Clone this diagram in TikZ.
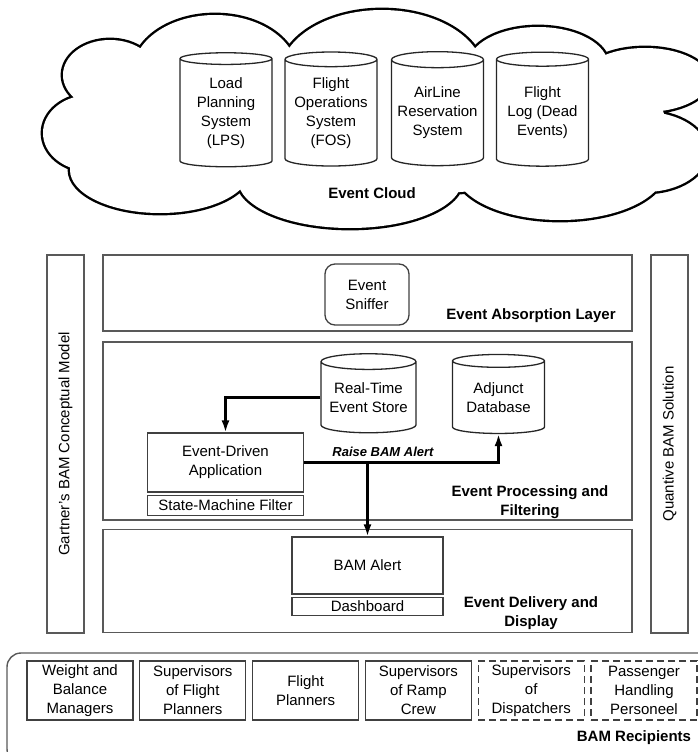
\documentclass[tikz,border=0pt]{standalone}
\usepackage{fontspec}
\setmainfont{Liberation Sans}
\usetikzlibrary{arrows.meta, positioning, shapes.geometric}

\begin{document}
\begin{tikzpicture}[x=1pt, y=-1pt,
    every node/.style={font=\fontsize{15}{19}\selectfont, align=center, inner sep=0pt},
    store/.style={cylinder, shape border rotate=90, aspect=0.2, draw=black!85, line width=1.3pt},
    layer/.style={draw=black!65, line width=1.4pt, minimum width=529pt},
    side/.style={draw=black!65, line width=1.4pt, minimum width=378pt, minimum height=37pt, rotate=90},
    box/.style={draw=black!75, line width=1.3pt},
    who/.style={box, minimum width=106pt, minimum height=59pt},
    title/.style={font=\fontsize{15}{19}\selectfont\bfseries},
    flow/.style={line width=2.2pt, -{Latex[length=12pt, width=8pt]}}
]
\useasboundingbox (0,0) rectangle (698,752);
\clip (0,0) rectangle (698,752);

% event cloud: union of puffs, outline left by the white fill
\path[draw, line width=4.8pt, postaction={fill=white}]
    (110,75) ellipse [x radius=47, y radius=35]
    (90,133) ellipse [x radius=47, y radius=38]
    (160,170) ellipse [x radius=90, y radius=43]
    (350,180) ellipse [x radius=112, y radius=48]
    (560,170) ellipse [x radius=105, y radius=50]
    (645,152) ellipse [x radius=62, y radius=40]
    (645,80) ellipse [x radius=64, y radius=32]
    (538,65) ellipse [x radius=70, y radius=38]
    (382,75) ellipse [x radius=102, y radius=65]
    (215,72) ellipse [x radius=82, y radius=57]
    (380,120) ellipse [x radius=285, y radius=75];
\node[store, minimum width=92pt, minimum height=114pt] (lps) at (226,113) {Load\\Planning\\System\\(LPS)};
\node[store, minimum width=92pt, minimum height=114pt] (fos) at (331,113) {Flight\\Operations\\System\\(FOS)};
\node[store, minimum width=92pt, minimum height=114pt] (ars) at (437.5,113) {AirLine\\Reservation\\System};
\node[store, minimum width=92pt, minimum height=114pt] (flog) at (542.5,113) {Flight\\Log (Dead\\Events)};
\node[title] (cloudlbl) at (372,193) {Event Cloud};

% side bars
\node[side] (gartner) at (65.5,444) {Gartner's BAM Conceptual Model};
\node[side] (quantive) at (669.5,444) {Quantive BAM Solution};

% layers
\node[layer, minimum height=76pt] (absorb) at (367.5,293) {};
\node[layer, minimum height=178pt] (proc) at (367.5,431) {};
\node[layer, minimum height=103pt] (deliv) at (367.5,581) {};

\node[box, rounded corners=10pt, minimum width=84pt, minimum height=61pt] (snif) at (367,294.5) {Event\\Sniffer};
\node[title] (absorblbl) at (531,316) {Event Absorption Layer};

\node[store, minimum width=95pt, minimum height=79pt] (rtes) at (368.5,397.5) {Real-Time\\Event Store};
\node[store, minimum width=92pt, minimum height=79pt] (adb) at (498.5,397.5) {Adjunct\\Database};
\node[box, minimum width=156pt, minimum height=59pt] (eda) at (225.5,462.5) {Event-Driven\\Application};
\node[box, minimum width=156pt, minimum height=20pt, below=2pt of eda] (smf) {State-Machine Filter};
\node[font=\fontsize{13}{16}\selectfont\bfseries\itshape] (raise) at (383,452) {Raise BAM Alert};
\node[title] (proclbl) at (530,502) {Event Processing and\\Filtering};

\node[box, minimum width=151pt, minimum height=57pt] (alert) at (367.5,565.5) {BAM Alert};
\node[box, minimum width=151pt, minimum height=18pt, below=2pt of alert] (dash) {Dashboard};
\node[title] (deliv lbl) at (531,613) {Event Delivery and\\Display};

\draw[flow] (rtes.west) -| (eda.north);
\coordinate (split) at (alert.north |- eda.east);
\draw[flow] (eda.east) -| (adb.south);
\draw[flow] (split) -- (alert.north);

% recipients
\node[draw=black!65, line width=1.4pt, rounded corners=14pt, minimum width=708pt, minimum height=110pt] (recip) at (361,708) {};
\node[who] (wbm) at (80,690.5) {Weight and\\Balance\\Managers};
\node[who] (sfp) at (192.8,690.5) {Supervisors\\of Flight\\Planners};
\node[who] (fp) at (305.6,690.5) {Flight\\Planners};
\node[who] (src) at (418.4,690.5) {Supervisors\\of Ramp\\Crew};
\node[who, dash pattern=on 7pt off 4pt] (sod) at (531.2,690.5) {Supervisors\\of\\Dispatchers};
\node[who, dash pattern=on 7pt off 4pt] (phs) at (644,690.5) {Passenger\\Handling\\Personeel};
\node[title] (reciplbl) at (634,738) {BAM Recipients};
\end{tikzpicture}
\end{document}
